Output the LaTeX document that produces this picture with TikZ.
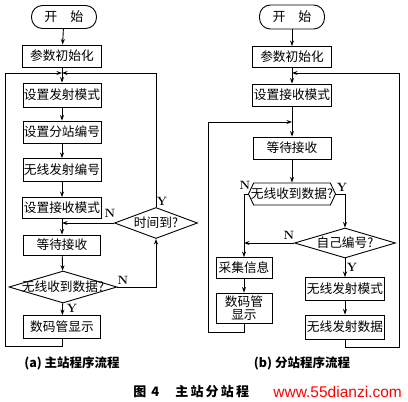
\documentclass[tikz,border=0pt]{standalone}
\usepackage{fontspec}
\newfontfamily\cjk{Noto Sans CJK SC}
\newfontfamily\wmfont{Liberation Sans}
\usetikzlibrary{shapes.geometric,shapes.symbols,arrows.meta}
\begin{document}
\begin{tikzpicture}[x=1pt,y=-1pt,line width=0.9pt,
  box/.style={draw,rectangle,inner sep=0pt,font=\cjk\fontsize{12.7}{14}\selectfont,align=center},
  term/.style={draw,rectangle,rounded corners=11pt,inner sep=0pt,minimum width=65pt,minimum height=23pt,font=\cjk\fontsize{13}{14}\selectfont},
  dia/.style={draw,diamond,inner sep=0pt},
  hexa/.style={draw,signal,signal to=west and east,signal pointer angle=130,inner sep=0pt},
  dtext/.style={font=\cjk\fontsize{12.7}{14}\selectfont},
  arr/.style={-{Stealth[length=5.5pt,width=4pt]}},
  lab/.style={font=\fontsize{12}{13}\selectfont\bfseries,inner sep=0pt},
  captext/.style={font=\cjk\bfseries\fontsize{12.5}{14}\selectfont,inner sep=0pt}]
\useasboundingbox (0,0) rectangle (408,402);

% ---------- (a) ----------
\node[term] (s1) at (64,17) {开\quad 始};
\node[box,minimum width=79pt,minimum height=22pt] (a1) at (62,56) {参数初始化};
\node[box,minimum width=78pt,minimum height=24pt] (a2) at (62,95) {设置发射模式};
\node[box,minimum width=78pt,minimum height=22pt] (a3) at (62,132) {设置分站编号};
\node[box,minimum width=78pt,minimum height=23pt] (a4) at (62,170) {无线发射编号};
\node[box,minimum width=79pt,minimum height=21pt] (a5) at (62,208) {设置接收模式};
\node[box,minimum width=77pt,minimum height=20pt] (a6) at (62,245) {等待接收};
\node[dia,minimum width=83pt,minimum height=31pt,label={[dtext]center:时间到?}] (d1) at (156,223) {};
\node[dia,minimum width=108pt,minimum height=32pt,label={[dtext]center:无线收到数据?}] (d2) at (63,287) {};
\node[box,minimum width=77pt,minimum height=23pt] (a7) at (62,327) {数码管显示};

\coordinate (jA) at (62,73);
\coordinate (jAr) at (156,73);
\coordinate (jAd) at (62,223);
\coordinate (lA1) at (62,346);
\coordinate (lA2) at (5,346);
\coordinate (lA3) at (5,73);

\draw[arr] (s1) -- (a1);
\draw[arr] (a1) -- (a2);
\draw[arr] (a2) -- (a3);
\draw[arr] (a3) -- (a4);
\draw[arr] (a4) -- (a5);
\draw[arr] (a5) -- (a6);
\draw[arr] (a6) -- (d2);
\draw[arr] (d2) -- (a7);
\draw[arr] (d1.west) -- (jAd);
\draw[arr] (d2.east) -| (d1.south);
\draw[arr] (d1.north) -- (jAr) -- (jA);
\draw[arr] (a7.south) -- (lA1) -- (lA2) -- (lA3) -- (jA);

\node[lab] at (162,201) {Y};
\node[lab] at (110,213) {N};
\node[lab] at (123,280) {N};
\node[lab] at (72,308) {Y};

\node[captext] at (72,363) {(a) 主站程序流程};

% ---------- (b) ----------
\node[term,minimum height=24pt] (s2) at (292,17) {开\quad 始};
\node[box,minimum width=79pt,minimum height=21pt] (b1) at (292,57) {参数初始化};
\node[box,minimum width=79pt,minimum height=22pt] (b2) at (292,95) {设置接收模式};
\node[box,minimum width=78pt,minimum height=22pt] (b3) at (292,148) {等待接收};
\node[hexa,minimum width=87pt,minimum height=22pt,label={[dtext]center:无线收到数据?}] (h1) at (292,194) {};
\node[dia,minimum width=101pt,minimum height=30pt,label={[dtext]center:自己编号?}] (d3) at (345,243) {};
\node[box,minimum width=79pt,minimum height=23pt] (b4) at (345,289) {无线发射模式};
\node[box,minimum width=79pt,minimum height=24pt] (b5) at (345,327) {无线发射数据};
\node[box,minimum width=56pt,minimum height=21pt] (b6) at (244,268) {采集信息};
\node[box,minimum width=56pt,minimum height=30pt,font=\cjk\fontsize{12.7}{13.5}\selectfont] (b7) at (244,308) {数码管\\显示};

\coordinate (jB) at (292,73);
\coordinate (jB2) at (292,122);
\coordinate (hN) at (244,194);
\coordinate (dN) at (244,243);
\coordinate (rB1) at (345,347);
\coordinate (rB2) at (399,347);
\coordinate (rB3) at (399,73);
\coordinate (lB1) at (244,332);
\coordinate (lB2) at (208,332);
\coordinate (lB3) at (208,122);

\draw[arr] (s2) -- (b1);
\draw[arr] (b1) -- (b2);
\draw[arr] (b2) -- (b3);
\draw[arr] (b3) -- (h1);
\draw[arr] (h1.west) -- (hN) -- (b6.north);
\draw[arr] (h1.east) -| (d3.north);
\draw[arr] (d3.west) -- (dN);
\draw[arr] (d3) -- (b4);
\draw[arr] (b4) -- (b5);
\draw[arr] (b6) -- (b7);
\draw[arr] (b5.south) -- (rB1) -- (rB2) -- (rB3) -- (jB);
\draw[arr] (b7.south) -- (lB1) -- (lB2) -- (lB3) -- (jB2);

\node[lab] at (245,185) {N};
\node[lab] at (342,187) {Y};
\node[lab] at (289,235) {N};
\node[lab] at (352,267) {Y};

\node[captext] at (302,363) {(b) 分站程序流程};

% ---------- caption ----------
\node[captext,anchor=west,font=\cjk\bfseries\fontsize{13}{14}\selectfont] (c1) at (133,392) {图\hspace{5pt}4\hspace{16pt}主\,站\,分\,站\,程};
\node[anchor=west,inner sep=0pt,text=red,font=\wmfont\fontsize{15.5}{16}\selectfont] (wm) at (273,392) {www.55dianzi.com};
\end{tikzpicture}
\end{document}
